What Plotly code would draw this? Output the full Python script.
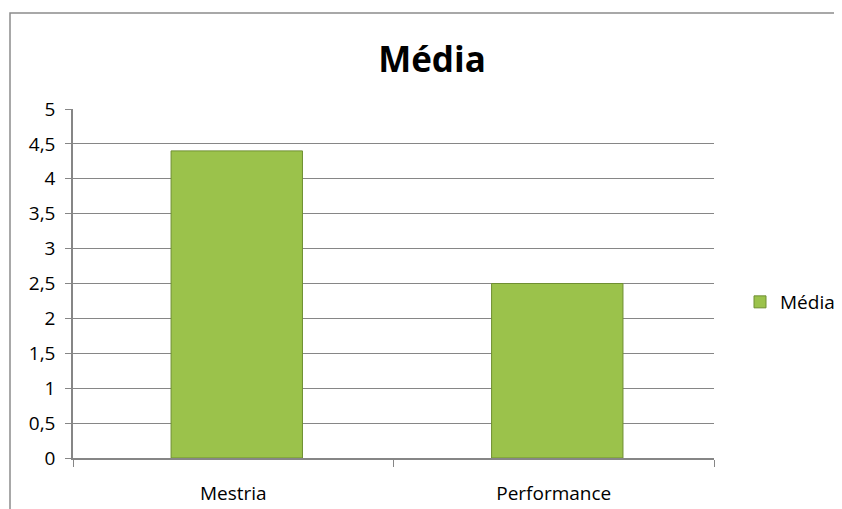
import plotly.graph_objects as go

categories = ["Mestria", "Performance"]
values = [4.4, 2.5]
series_name = "Média"
title_text = "Média"

# page is offset by the 8px default body margin; figure coords = page coords - 8
OFF = 8
W, H = 842 - OFF, 509 - OFF
PL, PR, PT, PB = 73 - OFF, 714 - OFF, 109 - OFF, 458 - OFF
PW, PH = PR - PL, PB - PT

BAR_W = 0.41
fig = go.Figure()
fig.add_trace(go.Bar(
    x=categories, y=values, name=series_name,
    marker=dict(color="#9bc24b", line=dict(color="#6f8f32", width=1)),
    width=BAR_W, offset=-BAR_W / 2 + 0.011, showlegend=True,
))

axis_grey = "#868686"
font_family = "Open Sans, Noto Sans, sans-serif"

fig.update_layout(
    width=W, height=H,
    margin=dict(l=PL, r=W - PR, t=PT, b=H - PB, autoexpand=False),
    paper_bgcolor="white", plot_bgcolor="white",
    separators=",.",
    font=dict(family=font_family, size=16, color="#000000"),
    title=dict(text="<b>%s</b>" % title_text, x=(432 - OFF) / W, xref="container", xanchor="center",
               y=1 - (60 - OFF) / H, yref="container", yanchor="middle",
               font=dict(size=35, family=font_family, color="#000000")),
    showlegend=True,
    legend=dict(x=(740 - OFF - PL) / PW, xanchor="left", y=(PB - (302 - OFF)) / PH, yanchor="middle",
                font=dict(size=19), bgcolor="rgba(0,0,0,0)", itemwidth=30),
    bargap=0.59,
)
fig.update_yaxes(range=[0, 5], dtick=0.5, tick0=0, showgrid=True, gridcolor=axis_grey, gridwidth=1,
                 showline=True, linecolor=axis_grey, linewidth=1.5, ticks="outside", ticklen=6,
                 tickcolor=axis_grey, tickfont=dict(size=19), zeroline=False, ticklabelstandoff=6,
                 fixedrange=True)
fig.update_xaxes(showline=True, linecolor=axis_grey, linewidth=1.5, ticks="outside", ticklen=7,
                 tickcolor=axis_grey, tickson="boundaries", tickfont=dict(size=19), showgrid=False,
                 ticklabelstandoff=17)
fig.add_shape(type="rect", xref="paper", yref="paper",
              x0=(10 - OFF - PL) / PW, x1=1.5, y0=-0.5, y1=(PB - (13 - OFF)) / PH,
              line=dict(color="#8c8c8c", width=1.5), fillcolor="rgba(0,0,0,0)", layer="below")

fig.write_html("out.html")
